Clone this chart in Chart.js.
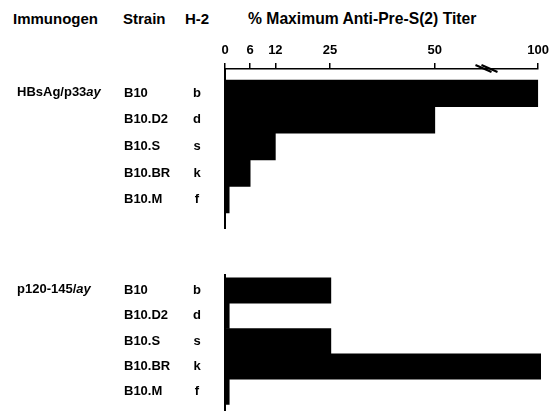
<!DOCTYPE html>
<html>
<head>
<meta charset="utf-8">
<script src="https://cdn.jsdelivr.net/npm/chart.js@4.4.1/dist/chart.umd.min.js"></script>
<style>
  html, body { margin: 0; padding: 0; background: #fff; }
  #wrap {
    position: relative; width: 554px; height: 418px; overflow: hidden;
    font-family: "Liberation Sans", Arial, sans-serif;
    font-weight: bold; color: #000;
  }
  .head { position: absolute; top: 9px; font-size: 15px; line-height: 20px; white-space: nowrap; }
  #c1 { position: absolute; left: 0; top: 0; }
  #c2 { position: absolute; left: 0; top: 250px; }
</style>
</head>
<body>
<div id="wrap">
  <div class="head" style="left:13px">Immunogen</div>
  <div class="head" style="left:123px">Strain</div>
  <div class="head" style="left:185px">H-2</div>
  <div class="head" style="left:248px; font-size:15.7px">% Maximum Anti-Pre-S(2) Titer</div>
  <canvas id="c1" width="554" height="240"></canvas>
  <canvas id="c2" width="554" height="168"></canvas>
</div>
<script>
// ======================
// DATA
// ======================

const strains = ["B10", "B10.D2", "B10.S", "B10.BR", "B10.M"];
const h2 = ["b", "d", "s", "k", "f"];

const titerP33 = [100, 50, 12, 6, 1];   // HBsAg/p33ay
const titerP120 = [25, 1, 25, 100, 1];  // p120-145/ay

const xTicks = [0, 6, 12, 25, 50, 100];

const FONT = '"Liberation Sans", Arial, sans-serif';

// ======================
// SCALE WITH A BREAK AFTER 50
// ======================

const SPLIT = 50;
const SPLIT_FRAC = 0.67;

class BrokenScale extends Chart.LinearScale {
    getPixelForValue(value) {
        if (value === null || value === undefined || isNaN(value)) return NaN;
        const d = value <= SPLIT
            ? value / SPLIT * SPLIT_FRAC
            : SPLIT_FRAC + (value - SPLIT) / (this.max - SPLIT) * (1 - SPLIT_FRAC);
        return this.getPixelForDecimal(d);
    }
    getValueForPixel(pixel) {
        const d = this.getDecimalForPixel(pixel);
        return d <= SPLIT_FRAC
            ? d / SPLIT_FRAC * SPLIT
            : SPLIT + (d - SPLIT_FRAC) / (1 - SPLIT_FRAC) * (this.max - SPLIT);
    }
}
BrokenScale.id = "broken";
BrokenScale.defaults = Chart.LinearScale.defaults;
Chart.register(BrokenScale);

// ======================
// ROW TEXT (immunogen + H-2)
// ======================

const rowLabels = {
    id: "rowLabels",
    afterDraw(chart, args, opts) {
        const ctx = chart.ctx;
        const y = chart.scales.y;
        ctx.save();
        ctx.fillStyle = "#000";
        ctx.textBaseline = "middle";

        ctx.textAlign = "center";
        ctx.font = "bold 13px " + FONT;
        h2.forEach((t, i) => ctx.fillText(t, 197, y.getPixelForValue(i)));

        // immunogen name, last part in italics
        ctx.textAlign = "left";
        let x = 17;
        const yy = y.getPixelForValue(0) - 1;
        ctx.font = "bold 13px " + FONT;
        ctx.fillText(opts.name, x, yy);
        x += ctx.measureText(opts.name).width;
        ctx.font = "italic bold 13px " + FONT;
        ctx.fillText(opts.suffix, x, yy);

        if (opts.breakMark) {
            const bx = chart.scales.x.getPixelForValue(75);
            const by = chart.chartArea.top;
            ctx.strokeStyle = "#000";
            ctx.lineWidth = 2;
            [-3, 3].forEach(dx => {
                ctx.beginPath();
                ctx.moveTo(bx + dx - 8, by - 4);
                ctx.lineTo(bx + dx + 8, by + 3);
                ctx.stroke();
            });
        }
        ctx.restore();
    }
};

function makeChart(id, values, opts) {
    return new Chart(document.getElementById(id), {
        type: "bar",
        data: {
            datasets: [{
                data: values.map((v, i) => ({ x: v, y: i })),
                backgroundColor: "#000",
                borderWidth: 0,
                barPercentage: 1,
                categoryPercentage: 1
            }]
        },
        options: {
            indexAxis: "y",
            responsive: false,
            animation: false,
            layout: { padding: { left: 124, right: 13, top: opts.padTop, bottom: opts.padBottom } },
            plugins: {
                legend: { display: false },
                tooltip: { enabled: false },
                rowLabels: opts.labels
            },
            scales: {
                x: {
                    type: "broken",
                    position: "top",
                    display: opts.showAxis,
                    min: 0,
                    max: 100,
                    afterBuildTicks: s => { s.ticks = xTicks.map(v => ({ value: v })); },
                    afterFit: s => { s.height = opts.showAxis ? 69 : 0; },
                    grid: { display: true, drawOnChartArea: false, drawTicks: true, tickLength: 6, color: "#000", lineWidth: 1.5 },
                    border: { display: true, color: "#000", width: 1.5 },
                    ticks: {
                        autoSkip: false, maxRotation: 0, padding: 5, color: "#000",
                        font: { family: FONT, size: 13, weight: "bold" }
                    }
                },
                y: {
                    type: "linear",
                    reverse: true,
                    offset: false,
                    min: opts.yMin,
                    max: opts.yMax,
                    afterBuildTicks: s => { s.ticks = strains.map((n, i) => ({ value: i })); },
                    afterFit: s => { s.width = 101; },
                    grid: { display: false, offset: false },
                    border: { display: true, color: "#000", width: 2 },
                    ticks: {
                        autoSkip: false, crossAlign: "far", padding: 0, color: "#000",
                        font: { family: FONT, size: 13, weight: "bold" },
                        callback: v => strains[v]
                    }
                }
            }
        },
        plugins: [rowLabels]
    });
}

makeChart("c1", titerP33, {
    padTop: 0, padBottom: 12, showAxis: true,
    yMin: -0.5 - 11 / 26.6, yMax: 4.5 + 15 / 26.6,
    labels: { name: "HBsAg/p33", suffix: "ay", breakMark: true }
});

makeChart("c2", titerP120, {
    padTop: 25, padBottom: 0, showAxis: false,
    yMin: -0.5 - 3 / 26.8, yMax: 4.5 + 6 / 26.8,
    labels: { name: "p120-145/", suffix: "ay", breakMark: false }
});
</script>
</body>
</html>
